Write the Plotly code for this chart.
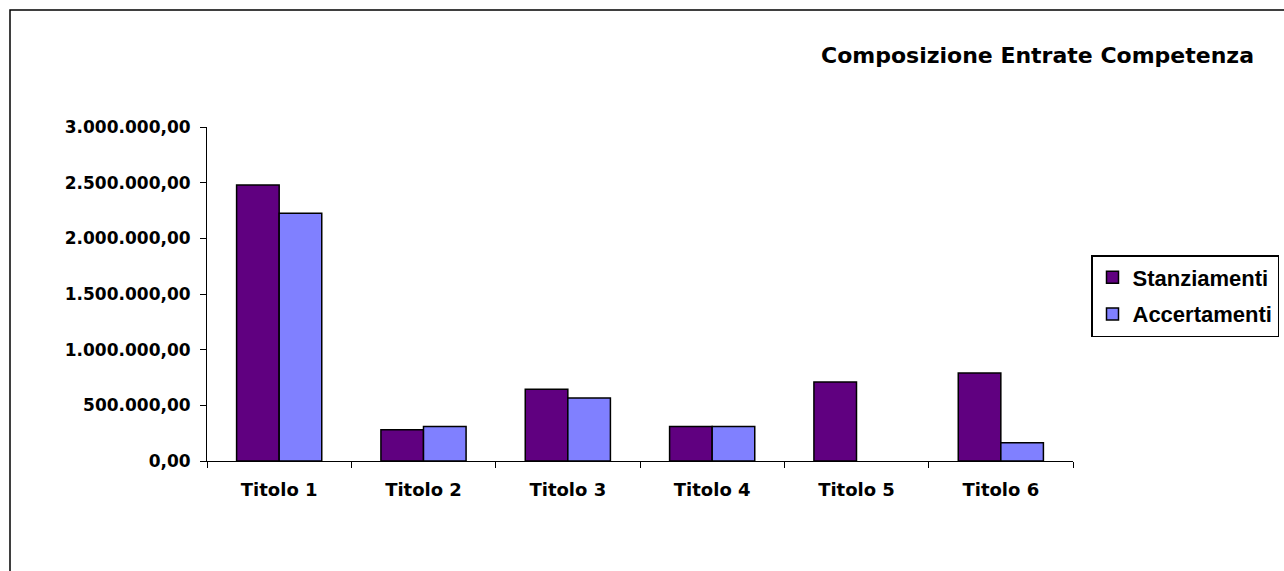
import plotly.graph_objects as go

categories = ["Titolo 1", "Titolo 2", "Titolo 3", "Titolo 4", "Titolo 5", "Titolo 6"]
stanziamenti = [2480000, 280000, 645000, 310000, 710000, 790000]
accertamenti = [2225000, 310000, 565000, 310000, 0, 165000]
y_ticks = [0, 500000, 1000000, 1500000, 2000000, 2500000, 3000000]

FONT = "DejaVu Sans"
LEG_FONT = "Liberation Sans, Arial"

# plot area in pixels
L, R, T, B = 207, 1073, 127, 461
W, H = 1284, 571
pw, ph = R - L, B - T

def px_x(x):
    return (x - L) / pw

def px_y(y):
    return (B - y) / ph

fig = go.Figure()
fig.add_trace(go.Bar(
    x=categories, y=stanziamenti, name="<b>Stanziamenti</b>", legendgroup="s",
    marker=dict(color="#600080",
                line=dict(color="black", width=[1.5 if v > 0 else 0 for v in stanziamenti])),
))
fig.add_trace(go.Bar(
    x=categories, y=accertamenti, name="<b>Accertamenti</b>", legendgroup="a",
    marker=dict(color="#8080FF",
                line=dict(color="black", width=[1.5 if v > 0 else 0 for v in accertamenti])),
))

fig.update_layout(
    width=W, height=H,
    margin=dict(l=L, r=W - R, t=T, b=H - B, pad=0, autoexpand=False),
    paper_bgcolor="white", plot_bgcolor="white",
    separators=",.",
    barmode="group", bargap=0.41, bargroupgap=0,
    font=dict(family=FONT, size=15, color="black"),
    showlegend=True,
    legend=dict(
        x=px_x(1091), y=px_y(255), xanchor="left", yanchor="top",
        bordercolor="black", borderwidth=1.5, bgcolor="white",
        font=dict(family=LEG_FONT, size=22, color="black"),
        itemwidth=30, tracegroupgap=5,
    ),
    xaxis=dict(
        showline=True, linecolor="black", linewidth=1,
        ticks="outside", ticklen=6, tickcolor="black", tickwidth=1,
        tickson="boundaries", showgrid=False, zeroline=False,
        tickfont=dict(family=FONT, size=18, color="black", weight="bold"),
        ticklabelstandoff=12,
    ),
    yaxis=dict(
        range=[0, 3000000], tickvals=y_ticks, tickformat=",.2f",
        showline=True, linecolor="black", linewidth=1,
        ticks="outside", ticklen=6, tickcolor="black", tickwidth=1,
        showgrid=False, zeroline=False,
        tickfont=dict(family=FONT, size=17, color="black", weight="bold"),
        ticklabelstandoff=6,
    ),
    annotations=[dict(
        text="<b>Composizione Entrate Competenza</b>",
        xref="paper", yref="paper", x=px_x(1256), y=px_y(55),
        xanchor="right", yanchor="middle", showarrow=False,
        font=dict(family=FONT, size=22, color="black"),
    )],
    shapes=[dict(
        type="rect", xref="paper", yref="paper",
        x0=px_x(10), x1=px_x(1300), y0=px_y(600), y1=px_y(10),
        line=dict(color="black", width=1.5), fillcolor="rgba(0,0,0,0)",
        layer="below",
    )],
)

fig.write_html("out.html", config={"displayModeBar": False},
               post_script="document.body.style.margin='0';")
